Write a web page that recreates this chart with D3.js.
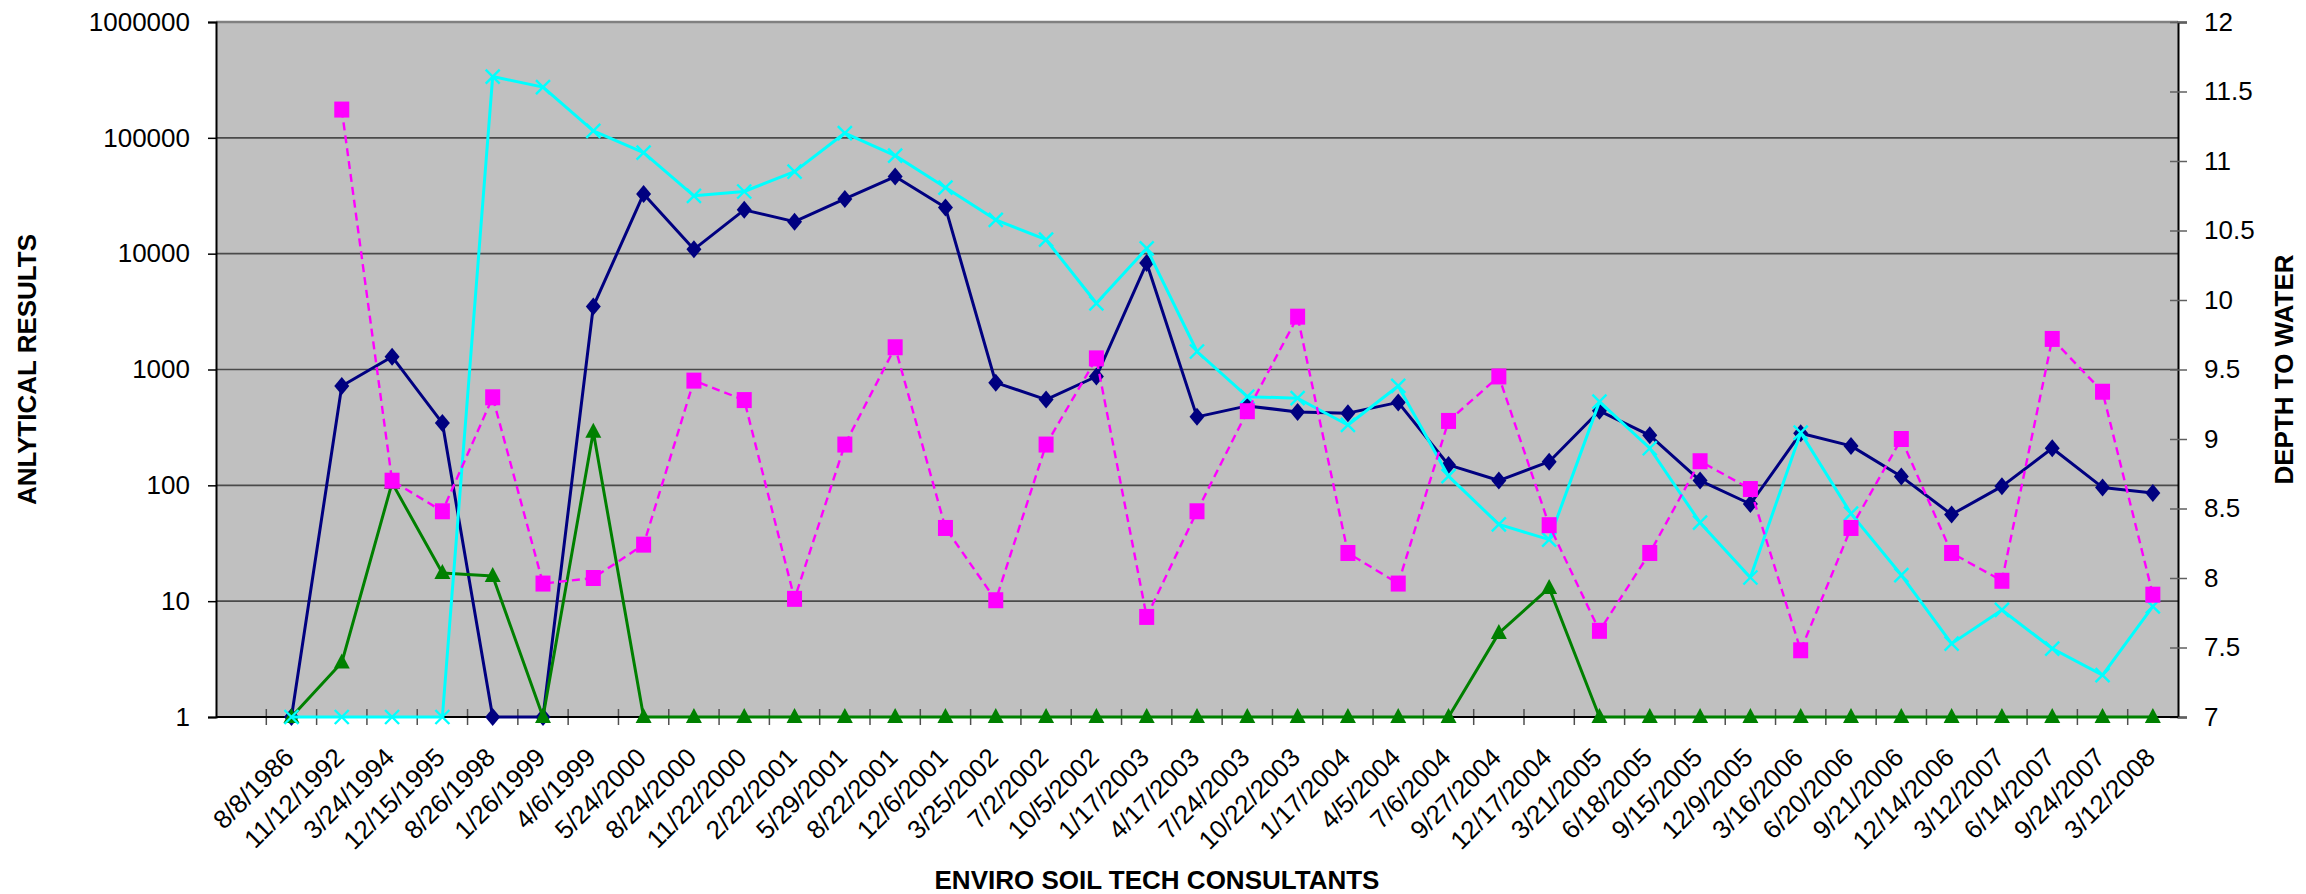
<!DOCTYPE html>
<html><head><meta charset="utf-8">
<script src="https://cdn.jsdelivr.net/npm/d3@7"></script>
<style>
body{margin:0;background:#fff;}
svg{display:block;font-family:"Liberation Sans",Arial,sans-serif;}
</style>
</head><body>
<svg id="chart" width="2306" height="894"></svg>
<script>
// ---- data ----
const categories = ["", "8/8/1986","11/12/1992","3/24/1994","12/15/1995","8/26/1998","1/26/1999","4/6/1999","5/24/2000","8/24/2000","11/22/2000","2/22/2001","5/29/2001","8/22/2001","12/6/2001","3/25/2002","7/2/2002","10/5/2002","1/17/2003","4/17/2003","7/24/2003","10/22/2003","1/17/2004","4/5/2004","7/6/2004","9/27/2004","12/17/2004","3/21/2005","6/18/2005","9/15/2005","12/9/2005","3/16/2006","6/20/2006","9/21/2006","12/14/2006","3/12/2007","6/14/2007","9/24/2007","3/12/2008"];

// navy diamonds (left, log)
const navyValues = [null, 1,720,1290,345,1,1,3500,32800,10900,23900,18900,29700,46300,25000,770,550,870,8300,390,485,430,420,520,150,110,160,440,270,110,69,282,219,119,56,98,209,96,86];
// cyan crosses (left, log)
const cyanValues = [null, 1,1,1,1,338000,274000,115000,74600,31600,34400,51100,110000,70300,37200,19600,13200,3730,11100,1430,583,565,332,721,120,46,34,528,209,47.6,16,285,57,16.8,4.3,8.4,3.9,2.3,9.0];
// green triangles (left, log)
const greenValues = [null, 1,2.95,105,17.5,16.5,1,290,1,1,1,1,1,1,1,1,1,1,1,1,1,1,1,1,1,5.3,13,1,1,1,1,1,1,1,1,1,1,1,1];
// magenta squares (right, depth to water)
const depthValues = [null, null,11.37,8.70,8.48,9.30,7.96,8.00,8.24,9.42,9.28,7.85,8.96,9.66,8.36,7.84,8.96,9.58,7.72,8.48,9.20,9.88,8.18,7.96,9.13,9.45,8.38,7.62,8.18,8.84,8.64,7.48,8.36,9.00,8.18,7.98,9.72,9.34,7.88];

const leftTicks = [1,10,100,1000,10000,100000,1000000];
const rightTicks = [7,7.5,8,8.5,9,9.5,10,10.5,11,11.5,12];

const leftTitle = "ANLYTICAL RESULTS";
const rightTitle = "DEPTH TO WATER";
const xTitle = "ENVIRO SOIL TECH CONSULTANTS";

// ---- layout ----
const L = 216, R = 2178, T = 22, B = 717;
const svg = d3.select("#chart");

const x = d3.scaleBand().domain(d3.range(categories.length)).range([L, R]).padding(0);
const yL = d3.scaleLog().domain([1, 1e6]).range([B, T]);
const yR = d3.scaleLinear().domain([7, 12]).range([B, T]);
const cx = i => x(i) + x.bandwidth() / 2;

// plot background
svg.append("rect").attr("x", L).attr("y", T).attr("width", R - L).attr("height", B - T).attr("fill", "#C0C0C0");

// gridlines
svg.append("g").selectAll("line").data(leftTicks.filter(v => v > 1 && v < 1e6)).join("line")
  .attr("x1", L).attr("x2", R).attr("y1", d => yL(d)).attr("y2", d => yL(d))
  .attr("stroke", "#4a4a4a").attr("stroke-width", 1.6);

// top border
svg.append("line").attr("x1", L).attr("x2", R).attr("y1", T).attr("y2", T).attr("stroke", "#808080").attr("stroke-width", 2.6);

// left axis
const gL = svg.append("g").attr("transform", `translate(${L},0)`)
  .call(d3.axisLeft(yL).tickValues(leftTicks).tickFormat(d3.format("d")).tickSize(8).tickPadding(18));
gL.select(".domain").attr("stroke", "#000").attr("stroke-width", 2);
gL.selectAll(".tick line").attr("stroke", "#000").attr("stroke-width", 1.5);
gL.selectAll(".tick text").attr("font-size", 26).attr("fill", "#000").attr("font-family", '"Liberation Sans",Arial,sans-serif');

// right axis
const gR = svg.append("g").attr("transform", `translate(${R},0)`)
  .call(d3.axisRight(yR).tickValues(rightTicks).tickFormat(d => d).tickSize(9).tickPadding(17));
gR.select(".domain").attr("stroke", "#000").attr("stroke-width", 2);
gR.selectAll(".tick line").attr("x1", -8).attr("stroke", "#606060").attr("stroke-width", 1.5);
gR.selectAll(".tick text").attr("font-size", 26).attr("fill", "#000").attr("font-family", '"Liberation Sans",Arial,sans-serif');

// bottom axis line + ticks at band boundaries
svg.append("g").selectAll("line").data(d3.range(1, categories.length)).join("line")
  .attr("x1", d => x(d)).attr("x2", d => x(d)).attr("y1", B - 8).attr("y2", B + 8)
  .attr("stroke", "#505050").attr("stroke-width", 1.5);
svg.append("line").attr("x1", L).attr("x2", R).attr("y1", B).attr("y2", B).attr("stroke", "#000").attr("stroke-width", 2);

// x labels
svg.append("g").selectAll("text").data(d3.range(categories.length).filter(i => categories[i] !== "")).join("text")
  .attr("transform", i => `translate(${cx(i) + 4},${B + 42}) rotate(-45)`)
  .attr("text-anchor", "end").attr("font-size", 26).attr("fill", "#000")
  .text(i => categories[i]);

// titles
svg.append("text").attr("transform", `translate(36,${(T + B) / 2}) rotate(-90)`).attr("text-anchor", "middle")
  .attr("font-size", 26).attr("font-weight", "bold").text(leftTitle);
svg.append("text").attr("transform", `translate(2293,${(T + B) / 2}) rotate(-90)`).attr("text-anchor", "middle")
  .attr("font-size", 26).attr("font-weight", "bold").text(rightTitle);
svg.append("text").attr("x", 1157).attr("y", 889).attr("text-anchor", "middle")
  .attr("font-size", 26).attr("font-weight", "bold").text(xTitle);

// ---- series ----
function drawSeries(values, yScale, color, width, dash, marker) {
  const pts = values.map((v, i) => ({ i, v })).filter(d => d.v != null);
  const line = d3.line().defined(d => d.v != null).x(d => cx(d.i)).y(d => yScale(d.v));
  svg.append("path").datum(values.map((v, i) => ({ i, v })))
    .attr("d", line).attr("fill", "none").attr("stroke", color).attr("stroke-width", width)
    .attr("stroke-dasharray", dash).attr("stroke-linejoin", "round");
  const g = svg.append("g");
  pts.forEach(d => {
    const px = cx(d.i), py = yScale(d.v);
    if (marker === "diamond") {
      g.append("path").attr("d", `M${px},${py - 9}L${px + 7.5},${py}L${px},${py + 9}L${px - 7.5},${py}Z`).attr("fill", color);
    } else if (marker === "square") {
      g.append("rect").attr("x", px - 7.5).attr("y", py - 8).attr("width", 15).attr("height", 16).attr("fill", color);
    } else if (marker === "triangle") {
      g.append("path").attr("d", `M${px},${py - 9}L${px + 8},${py + 6}L${px - 8},${py + 6}Z`).attr("fill", color);
    } else if (marker === "cross") {
      g.append("path").attr("d", `M${px - 7},${py - 7}L${px + 7},${py + 7}M${px - 7},${py + 7}L${px + 7},${py - 7}`)
        .attr("stroke", color).attr("stroke-width", 2.4).attr("fill", "none");
    }
  });
}

drawSeries(navyValues, yL, "#000080", 3, null, "diamond");
drawSeries(greenValues, yL, "#008000", 3, null, "triangle");
drawSeries(cyanValues, yL, "#00FFFF", 3, null, "cross");
drawSeries(depthValues, yR, "#FF00FF", 2.4, "8,5", "square");
</script>
</body></html>
